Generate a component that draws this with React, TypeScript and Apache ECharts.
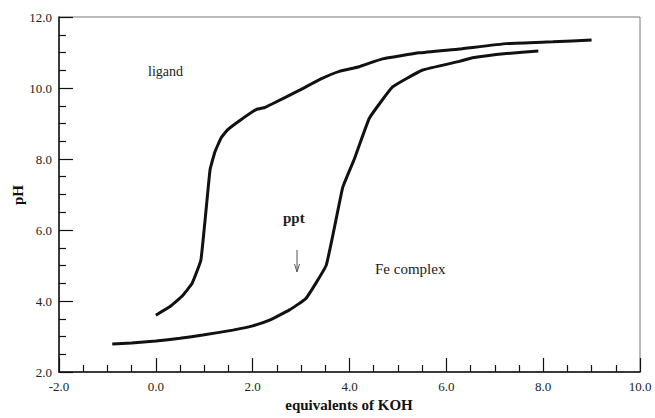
import React, { useEffect, useRef } from "react";
import * as echarts from "echarts";

const ligandX = [0.0, 0.3, 0.55, 0.75, 0.93, 1.04, 1.12, 1.22, 1.35, 1.48, 1.75, 2.08, 2.25, 2.4, 2.97, 3.4, 3.79, 4.2, 4.68, 5.44, 6.27, 7.24, 8.2, 9.0];
const ligandY = [3.6, 3.85, 4.15, 4.5, 5.15, 6.6, 7.7, 8.2, 8.6, 8.82, 9.1, 9.4, 9.45, 9.55, 9.94, 10.25, 10.47, 10.6, 10.82, 10.99, 11.1, 11.25, 11.3, 11.35];

const feX = [-0.9, -0.5, 0.0, 0.5, 0.97, 1.59, 2.0, 2.35, 2.76, 3.1, 3.52, 3.86, 4.1, 4.41, 4.89, 5.5, 6.27, 6.54, 7.24, 7.9];
const feY = [2.79, 2.82, 2.87, 2.95, 3.04, 3.18, 3.3, 3.46, 3.75, 4.07, 5.01, 7.2, 8.0, 9.15, 10.03, 10.5, 10.75, 10.85, 10.97, 11.04];

const xMin = -2, xMax = 10, yMin = 2, yMax = 12;
const xTitle = "equivalents of KOH";
const yTitle = "pH";

const FONT = "Liberation Serif";

export default function App() {
  const ref = useRef<HTMLDivElement>(null);
  useEffect(() => {
    if (!ref.current) return;
    const chart = echarts.init(ref.current, null, { renderer: "svg" });
    chart.setOption({
      animation: false,
      backgroundColor: "#fff",
      grid: { left: 59, right: 15, top: 17, bottom: 46, show: true, borderColor: "#777", borderWidth: 1, outerBoundsMode: "none", containLabel: false },
      xAxis: {
        type: "value", min: xMin, max: xMax, interval: 2,
        axisLine: { show: true, onZero: false, lineStyle: { color: "#111", width: 1.5 } },
        axisTick: { show: true, inside: true, length: 14, lineStyle: { color: "#111", width: 1.2 } },
        minorTick: { show: true, splitNumber: 4, length: 7, lineStyle: { color: "#111", width: 1.2 } },
        axisLabel: { fontFamily: FONT, fontSize: 13, color: "#222", margin: 8, formatter: (v: number) => v.toFixed(1) },
        splitLine: { show: false },
      },
      yAxis: {
        type: "value", min: yMin, max: yMax, interval: 2,
        axisLine: { show: true, onZero: false, lineStyle: { color: "#111", width: 1.5 } },
        axisTick: { show: true, inside: true, length: 14, lineStyle: { color: "#111", width: 1.2 } },
        minorTick: { show: true, splitNumber: 4, length: 7, lineStyle: { color: "#111", width: 1.2 } },
        axisLabel: { fontFamily: FONT, fontSize: 13, color: "#222", margin: 7, formatter: (v: number) => v.toFixed(1) },
        splitLine: { show: false },
      },
      series: [
        {
          name: "ligand", type: "line", symbol: "none", smooth: 0.1,
          lineStyle: { color: "#111", width: 3 },
          data: ligandX.map((x, i) => [x, ligandY[i]]),
        },
        {
          name: "Fe complex", type: "line", symbol: "none", smooth: 0.1,
          lineStyle: { color: "#111", width: 3 },
          data: feX.map((x, i) => [x, feY[i]]),
        },
      ],
      graphic: [
        { type: "text", x: 349, y: 405, style: { text: xTitle, font: `bold 15px ${FONT}`, fill: "#111", align: "center", verticalAlign: "middle" } },
        { type: "text", x: 18, y: 195, rotation: Math.PI / 2, style: { text: yTitle, font: `bold 15px ${FONT}`, fill: "#111", align: "center", verticalAlign: "middle" } },
        { type: "text", left: 148, top: 64, style: { text: "ligand", font: `14px ${FONT}`, fill: "#222" } },
        { type: "text", left: 283, top: 210, style: { text: "ppt", font: `bold 15px ${FONT}`, fill: "#222" } },
        { type: "text", left: 375, top: 261, style: { text: "Fe complex", font: `15px ${FONT}`, fill: "#222" } },
        { type: "line", shape: { x1: 297, y1: 250, x2: 297, y2: 270 }, style: { stroke: "#555", lineWidth: 1 } },
        { type: "polyline", shape: { points: [[294.5, 264], [297, 272], [299.5, 264]] }, style: { stroke: "#555", lineWidth: 1, fill: "none" } },
      ],
    });
    return () => chart.dispose();
  }, []);
  return <div ref={ref} style={{ width: 655, height: 418, position: "absolute", left: 0, top: 0 }} />;
}
